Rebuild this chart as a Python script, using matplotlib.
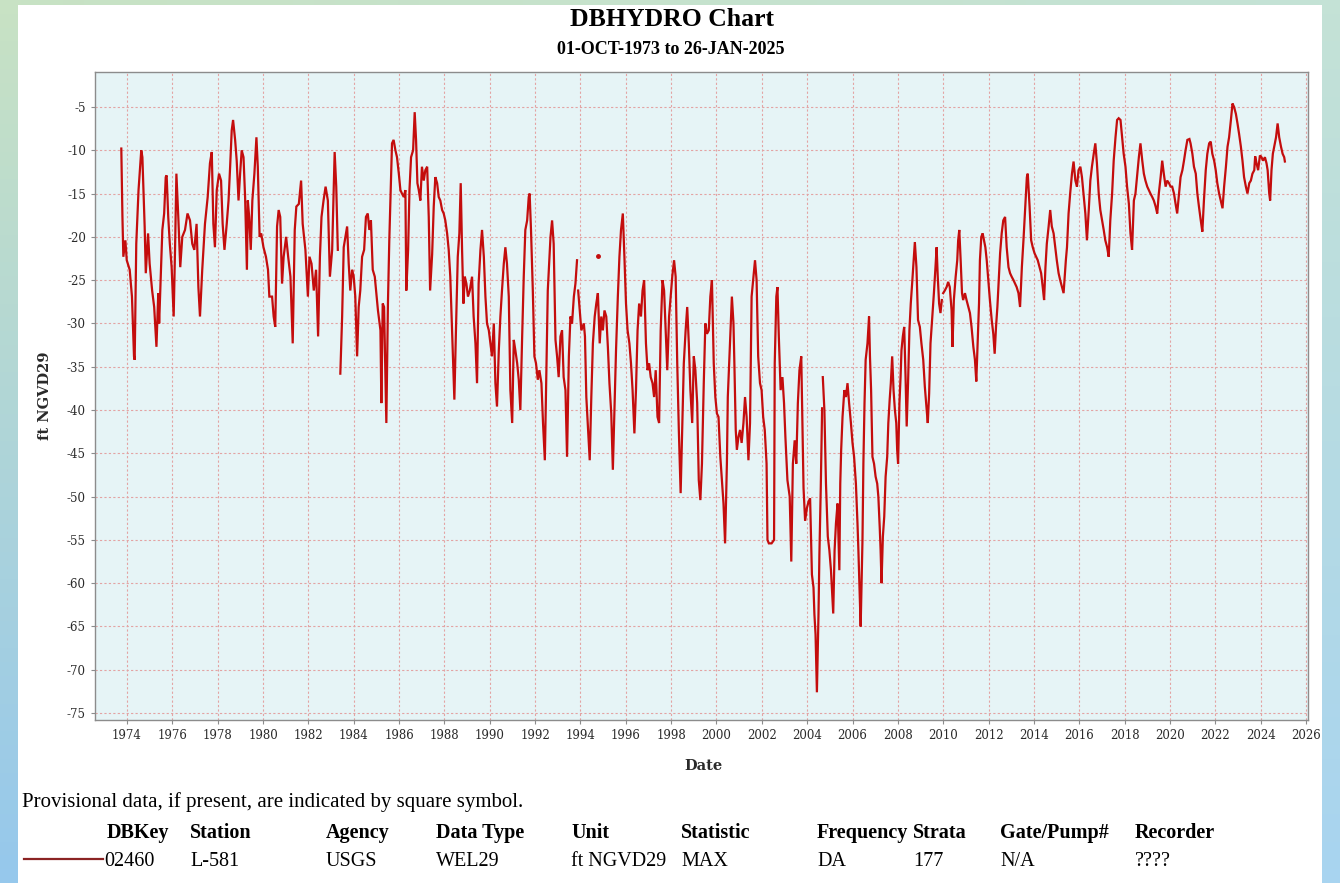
import numpy as np
import matplotlib
matplotlib.use("Agg")
import matplotlib.pyplot as plt
from matplotlib.patches import Rectangle

# Well L-581 daily max water level (ft NGVD29), read off the chart as
# (decimal year, level) turning points.
levels_1973_1983 = [
    (1973.75, -9.8), (1973.80, -17.7), (1973.84, -22.3), (1973.93, -20.4), (1973.99, -22.7),
    (1974.12, -23.8), (1974.22, -26.9), (1974.31, -33.8), (1974.34, -34.2), (1974.41, -20.8),
    (1974.51, -14.6), (1974.63, -10.0), (1974.68, -10.8), (1974.78, -18.8), (1974.83, -24.2),
    (1974.93, -19.6), (1975.00, -23.1), (1975.11, -26.2), (1975.20, -28.1), (1975.30, -32.7),
    (1975.38, -26.5), (1975.42, -30.0), (1975.50, -23.8), (1975.56, -19.2), (1975.64, -17.3),
    (1975.71, -13.1), (1975.75, -12.9), (1975.82, -17.7), (1975.89, -20.8), (1975.97, -23.5),
    (1976.06, -29.2), (1976.12, -21.5), (1976.18, -12.7), (1976.27, -18.1), (1976.35, -23.5),
    (1976.44, -20.0), (1976.56, -19.2), (1976.67, -17.3), (1976.78, -18.1), (1976.88, -20.8),
    (1976.97, -21.5), (1977.07, -18.5), (1977.15, -25.8), (1977.22, -29.2), (1977.32, -23.8),
    (1977.44, -18.5), (1977.56, -15.4), (1977.66, -11.5), (1977.74, -10.2), (1977.81, -18.5),
    (1977.88, -21.2), (1977.96, -14.6), (1978.06, -12.7), (1978.15, -13.5), (1978.22, -18.5),
    (1978.30, -21.5), (1978.40, -18.5), (1978.48, -15.8), (1978.55, -11.9), (1978.62, -7.7),
    (1978.68, -6.5), (1978.77, -8.8), (1978.84, -11.2), (1978.92, -15.8), (1978.99, -12.7),
    (1979.06, -10.0), (1979.14, -10.8), (1979.21, -15.4), (1979.29, -23.8), (1979.33, -15.8),
    (1979.39, -17.7), (1979.46, -21.5), (1979.53, -15.8), (1979.62, -12.7), (1979.71, -8.5),
    (1979.77, -11.9), (1979.85, -20.0), (1979.92, -19.6), (1980.02, -21.2), (1980.13, -22.3),
    (1980.22, -23.8), (1980.28, -26.9), (1980.40, -26.9), (1980.47, -29.2), (1980.54, -30.4),
    (1980.62, -18.8), (1980.69, -16.9), (1980.76, -17.7), (1980.84, -25.4), (1980.91, -22.3),
    (1981.02, -20.0), (1981.11, -22.3), (1981.21, -24.6), (1981.31, -32.3), (1981.40, -19.2),
    (1981.47, -16.5), (1981.58, -16.2), (1981.68, -13.5), (1981.75, -18.5), (1981.87, -21.5),
    (1981.98, -26.9), (1982.05, -22.3), (1982.14, -23.1), (1982.24, -26.2), (1982.34, -23.8),
    (1982.43, -31.5), (1982.51, -22.3), (1982.58, -17.7), (1982.67, -15.8), (1982.76, -14.2),
    (1982.86, -15.8), (1982.95, -24.6), (1983.05, -21.5), (1983.16, -10.2), (1983.23, -14.2),
    (1983.30, -21.5),
]

levels_1983_1993 = [
    (1983.41, -35.8), (1983.49, -29.2), (1983.56, -21.2), (1983.71, -18.8), (1983.78, -23.1),
    (1983.85, -26.2), (1983.93, -23.8), (1984.00, -24.6), (1984.07, -26.9), (1984.15, -33.8),
    (1984.22, -28.1), (1984.29, -26.2), (1984.37, -22.3), (1984.46, -21.5), (1984.54, -17.7),
    (1984.62, -17.3), (1984.69, -19.2), (1984.76, -18.1), (1984.84, -23.8), (1984.93, -24.6),
    (1985.00, -26.5), (1985.07, -28.5), (1985.18, -30.8), (1985.22, -39.2), (1985.28, -27.7),
    (1985.34, -28.1), (1985.40, -35.8), (1985.44, -41.5), (1985.51, -27.7), (1985.57, -20.4),
    (1985.63, -14.6), (1985.69, -9.2), (1985.76, -8.8), (1985.84, -10.0), (1985.91, -10.8),
    (1985.99, -12.7), (1986.06, -14.6), (1986.13, -15.0), (1986.21, -15.4), (1986.28, -14.6),
    (1986.32, -26.2), (1986.40, -21.5), (1986.46, -14.6), (1986.53, -10.8), (1986.62, -10.0),
    (1986.69, -5.6), (1986.75, -8.8), (1986.81, -13.8), (1986.87, -14.6), (1986.94, -15.8),
    (1987.01, -11.9), (1987.09, -13.5), (1987.16, -12.3), (1987.24, -11.9), (1987.31, -17.7),
    (1987.37, -26.2), (1987.46, -22.0), (1987.53, -16.5), (1987.60, -13.1), (1987.68, -13.8),
    (1987.75, -15.4), (1987.82, -15.8), (1987.90, -16.9), (1987.97, -17.3), (1988.04, -18.1),
    (1988.12, -19.6), (1988.19, -21.5), (1988.26, -24.6), (1988.34, -30.8), (1988.38, -33.8),
    (1988.44, -38.8), (1988.51, -30.8), (1988.59, -22.3), (1988.66, -19.6), (1988.72, -13.8),
    (1988.78, -21.5), (1988.84, -27.7), (1988.90, -24.6), (1988.97, -25.4), (1989.04, -26.9),
    (1989.12, -26.2), (1989.22, -24.6), (1989.29, -29.2), (1989.37, -32.3), (1989.44, -36.9),
    (1989.51, -25.4), (1989.59, -21.5), (1989.66, -19.2), (1989.74, -22.3), (1989.81, -26.9),
    (1989.88, -30.0), (1989.96, -30.8), (1990.03, -32.3), (1990.10, -33.8), (1990.18, -30.0),
    (1990.25, -36.9), (1990.32, -39.6), (1990.40, -33.1), (1990.47, -29.2), (1990.54, -26.2),
    (1990.62, -23.1), (1990.69, -21.2), (1990.76, -23.1), (1990.84, -26.9), (1990.91, -37.7),
    (1990.99, -41.5), (1991.06, -31.9), (1991.13, -33.1), (1991.21, -34.6), (1991.28, -36.5),
    (1991.35, -40.0), (1991.43, -31.5), (1991.50, -24.6), (1991.57, -19.2), (1991.65, -18.1),
    (1991.72, -15.4), (1991.76, -15.0), (1991.82, -19.2), (1991.90, -26.2), (1991.97, -33.8),
    (1992.04, -34.6), (1992.12, -36.5), (1992.19, -35.4), (1992.28, -36.9), (1992.35, -41.5),
    (1992.43, -45.8), (1992.50, -35.4), (1992.56, -26.2), (1992.62, -23.1), (1992.68, -20.0),
    (1992.75, -18.1), (1992.82, -20.8), (1992.90, -31.9), (1992.97, -33.8), (1993.04, -36.2),
    (1993.12, -31.5), (1993.19, -30.8), (1993.26, -36.2), (1993.34, -37.7), (1993.41, -45.4),
    (1993.49, -33.8), (1993.56, -29.2), (1993.63, -30.0), (1993.71, -26.9), (1993.78, -25.4),
    (1993.85, -22.7),
]

levels_1993_2004 = [
    (1993.90, -26.2), (1993.97, -28.5), (1994.04, -30.8), (1994.15, -30.0), (1994.20, -31.5),
    (1994.26, -38.5), (1994.34, -42.3), (1994.41, -45.8), (1994.48, -38.5), (1994.55, -32.3),
    (1994.63, -29.2), (1994.70, -27.7), (1994.77, -26.5), (1994.85, -32.3), (1994.92, -29.2),
    (1994.99, -30.8), (1995.06, -28.5), (1995.14, -29.2), (1995.21, -32.7), (1995.28, -36.9),
    (1995.36, -40.4), (1995.43, -46.9), (1995.50, -40.0), (1995.57, -33.1), (1995.65, -26.9),
    (1995.72, -22.3), (1995.79, -19.2), (1995.87, -17.3), (1995.94, -22.3), (1996.01, -27.7),
    (1996.08, -30.8), (1996.16, -32.3), (1996.23, -34.6), (1996.30, -37.7), (1996.38, -42.7),
    (1996.45, -37.7), (1996.52, -30.8), (1996.59, -27.7), (1996.67, -29.2), (1996.74, -26.2),
    (1996.81, -25.0), (1996.89, -32.3), (1996.96, -35.4), (1997.03, -34.6), (1997.10, -36.2),
    (1997.18, -36.9), (1997.25, -38.5), (1997.32, -35.4), (1997.40, -40.8), (1997.47, -41.5),
    (1997.54, -30.8), (1997.62, -25.0), (1997.69, -26.2), (1997.76, -30.8), (1997.83, -35.4),
    (1997.91, -29.2), (1997.98, -26.9), (1998.05, -24.6), (1998.13, -22.7), (1998.20, -24.6),
    (1998.27, -34.6), (1998.34, -42.3), (1998.42, -49.6), (1998.49, -42.3), (1998.56, -34.6),
    (1998.64, -30.8), (1998.71, -28.1), (1998.78, -32.3), (1998.85, -37.7), (1998.93, -41.5),
    (1999.00, -33.8), (1999.07, -35.4), (1999.15, -39.2), (1999.22, -48.1), (1999.29, -50.4),
    (1999.36, -46.2), (1999.44, -36.9), (1999.51, -30.0), (1999.58, -31.2), (1999.66, -30.8),
    (1999.73, -26.9), (1999.80, -25.0), (1999.88, -34.6), (1999.95, -38.5), (2000.02, -40.4),
    (2000.09, -40.8), (2000.17, -45.4), (2000.24, -48.1), (2000.31, -50.8), (2000.38, -55.4),
    (2000.46, -46.2), (2000.50, -38.5), (2000.56, -34.6), (2000.62, -30.8), (2000.68, -26.9),
    (2000.75, -30.0), (2000.79, -34.6), (2000.85, -42.3), (2000.90, -44.6), (2000.97, -43.1),
    (2001.04, -42.3), (2001.11, -43.8), (2001.19, -41.5), (2001.26, -38.5), (2001.33, -40.8),
    (2001.41, -45.8), (2001.48, -41.5), (2001.55, -26.9), (2001.62, -25.0), (2001.70, -22.7),
    (2001.77, -25.0), (2001.84, -33.8), (2001.92, -36.9), (2001.99, -37.7), (2002.06, -40.8),
    (2002.13, -42.3), (2002.21, -46.2), (2002.25, -55.0), (2002.31, -55.4), (2002.43, -55.4),
    (2002.54, -55.0), (2002.57, -34.6), (2002.64, -26.9), (2002.69, -25.8), (2002.75, -31.5),
    (2002.83, -37.7), (2002.91, -36.2), (2002.98, -39.2), (2003.04, -43.1), (2003.13, -48.1),
    (2003.23, -50.0), (2003.30, -57.5), (2003.37, -46.2), (2003.45, -43.5), (2003.52, -46.2),
    (2003.59, -39.2), (2003.66, -35.4), (2003.74, -33.8), (2003.84, -49.0), (2003.91, -52.8),
    (2003.99, -51.3), (2004.06, -50.6), (2004.13, -50.2), (2004.21, -59.0), (2004.28, -60.5),
    (2004.32, -63.6), (2004.37, -65.9), (2004.43, -72.6), (2004.50, -63.6), (2004.54, -56.7),
    (2004.60, -49.0), (2004.66, -39.8),
]

levels_2004_2010 = [
    (2004.69, -36.2), (2004.76, -40.0), (2004.83, -48.5), (2004.91, -54.6), (2004.98, -56.2),
    (2005.05, -58.5), (2005.15, -63.5), (2005.21, -56.2), (2005.27, -53.1), (2005.34, -50.8),
    (2005.42, -58.5), (2005.46, -48.5), (2005.50, -44.6), (2005.56, -40.8), (2005.64, -37.7),
    (2005.71, -38.5), (2005.78, -36.9), (2005.85, -39.2), (2005.93, -41.5), (2006.00, -43.8),
    (2006.07, -45.4), (2006.15, -48.5), (2006.22, -53.1), (2006.26, -56.2), (2006.32, -61.5),
    (2006.36, -65.0), (2006.44, -55.0), (2006.48, -46.2), (2006.53, -39.2), (2006.58, -34.2),
    (2006.66, -32.3), (2006.73, -29.2), (2006.77, -33.8), (2006.82, -37.7), (2006.88, -45.4),
    (2006.95, -46.2), (2007.02, -47.7), (2007.09, -48.5), (2007.14, -50.0), (2007.20, -53.5),
    (2007.24, -56.2), (2007.28, -60.0), (2007.34, -54.6), (2007.40, -52.3), (2007.46, -47.7),
    (2007.53, -45.4), (2007.58, -41.5), (2007.64, -38.8), (2007.69, -36.9), (2007.75, -33.8),
    (2007.81, -37.7), (2007.87, -40.0), (2007.93, -41.5), (2007.97, -44.6), (2008.01, -46.2),
    (2008.07, -39.2), (2008.12, -36.2), (2008.16, -33.1), (2008.22, -31.5), (2008.28, -30.4),
    (2008.34, -36.2), (2008.39, -41.9), (2008.45, -36.9), (2008.51, -30.8), (2008.57, -27.7),
    (2008.63, -25.4), (2008.75, -20.6), (2008.82, -23.5), (2008.89, -29.6), (2008.97, -30.4),
    (2009.04, -32.3), (2009.12, -34.2), (2009.19, -37.3), (2009.26, -39.6), (2009.32, -41.5),
    (2009.38, -38.1), (2009.44, -32.3), (2009.51, -29.6), (2009.59, -26.5), (2009.66, -23.5),
    (2009.71, -21.2), (2009.76, -24.6), (2009.82, -27.7), (2009.88, -28.8), (2009.94, -27.3),
]

levels_2010_2025 = [
    (2010.00, -26.5), (2010.07, -26.2), (2010.15, -25.8), (2010.22, -25.2), (2010.29, -25.8),
    (2010.37, -28.5), (2010.41, -32.7), (2010.47, -27.3), (2010.55, -24.6), (2010.62, -22.7),
    (2010.66, -20.4), (2010.71, -19.2), (2010.77, -22.7), (2010.83, -26.5), (2010.88, -27.3),
    (2010.96, -26.5), (2011.03, -27.3), (2011.11, -28.1), (2011.18, -28.8), (2011.25, -30.4),
    (2011.33, -32.7), (2011.40, -34.2), (2011.46, -36.7), (2011.52, -32.3), (2011.58, -27.7),
    (2011.62, -22.7), (2011.68, -20.0), (2011.74, -19.6), (2011.80, -20.4), (2011.86, -21.2),
    (2011.92, -22.7), (2011.99, -25.0), (2012.06, -27.3), (2012.14, -29.6), (2012.21, -31.2),
    (2012.27, -33.5), (2012.33, -30.4), (2012.39, -28.1), (2012.45, -25.0), (2012.51, -21.9),
    (2012.58, -19.6), (2012.65, -18.1), (2012.73, -17.7), (2012.80, -21.2), (2012.88, -23.5),
    (2012.95, -24.2), (2013.02, -24.6), (2013.10, -25.0), (2013.17, -25.4), (2013.24, -25.8),
    (2013.32, -26.5), (2013.39, -28.1), (2013.47, -23.5), (2013.54, -20.4), (2013.61, -16.9),
    (2013.69, -13.1), (2013.73, -12.7), (2013.81, -16.5), (2013.88, -20.4), (2013.95, -21.2),
    (2014.03, -21.9), (2014.10, -22.3), (2014.17, -22.7), (2014.25, -23.5), (2014.32, -24.2),
    (2014.39, -25.8), (2014.45, -27.3), (2014.51, -23.5), (2014.57, -20.8), (2014.65, -18.8),
    (2014.72, -16.9), (2014.79, -18.8), (2014.87, -19.6), (2014.94, -21.2), (2015.01, -22.7),
    (2015.09, -24.2), (2015.16, -25.0), (2015.24, -25.8), (2015.31, -26.5), (2015.41, -22.7),
    (2015.46, -21.2), (2015.53, -17.3), (2015.60, -15.0), (2015.68, -12.7), (2015.75, -11.3),
    (2015.83, -13.5), (2015.90, -14.2), (2015.97, -12.3), (2016.05, -11.9), (2016.12, -13.1),
    (2016.19, -15.0), (2016.27, -17.3), (2016.34, -20.4), (2016.42, -16.9), (2016.49, -13.5),
    (2016.56, -11.9), (2016.64, -10.4), (2016.71, -9.2), (2016.78, -11.5), (2016.86, -15.0),
    (2016.93, -16.9), (2017.01, -18.1), (2017.08, -19.2), (2017.15, -20.4), (2017.23, -21.2),
    (2017.30, -22.3), (2017.37, -18.1), (2017.45, -15.0), (2017.52, -11.2), (2017.60, -8.5),
    (2017.67, -6.5), (2017.74, -6.3), (2017.82, -6.5), (2017.89, -8.5), (2017.96, -10.4),
    (2018.04, -11.9), (2018.11, -14.2), (2018.19, -16.2), (2018.26, -19.6), (2018.33, -21.5),
    (2018.41, -15.8), (2018.48, -15.0), (2018.55, -13.1), (2018.63, -10.8), (2018.70, -9.2),
    (2018.78, -11.2), (2018.85, -12.7), (2018.92, -13.5), (2019.00, -14.2), (2019.07, -14.6),
    (2019.14, -15.0), (2019.22, -15.4), (2019.29, -15.8), (2019.37, -16.5), (2019.44, -17.3),
    (2019.51, -15.0), (2019.59, -13.1), (2019.66, -11.2), (2019.73, -12.7), (2019.81, -14.2),
    (2019.88, -13.5), (2019.96, -13.8), (2020.03, -14.2), (2020.10, -14.2), (2020.18, -15.0),
    (2020.25, -16.2), (2020.32, -17.3), (2020.40, -15.0), (2020.47, -13.1), (2020.55, -12.3),
    (2020.62, -11.2), (2020.69, -10.0), (2020.77, -8.8), (2020.86, -8.7), (2020.91, -9.2),
    (2020.99, -10.4), (2021.06, -11.9), (2021.14, -12.7), (2021.21, -15.0), (2021.28, -16.5),
    (2021.36, -18.1), (2021.43, -19.4), (2021.50, -15.8), (2021.58, -12.3), (2021.65, -10.4),
    (2021.73, -9.2), (2021.80, -9.0), (2021.87, -10.4), (2021.95, -11.2), (2022.02, -12.3),
    (2022.09, -13.8), (2022.17, -15.0), (2022.24, -15.8), (2022.32, -16.7), (2022.39, -14.2),
    (2022.47, -11.9), (2022.54, -9.6), (2022.61, -8.5), (2022.69, -6.5), (2022.76, -4.6),
    (2022.83, -5.0), (2022.91, -5.8), (2022.98, -6.9), (2023.05, -8.1), (2023.13, -9.6),
    (2023.20, -11.2), (2023.27, -13.1), (2023.35, -14.2), (2023.42, -15.0), (2023.50, -13.8),
    (2023.57, -13.5), (2023.64, -12.7), (2023.72, -12.3), (2023.76, -10.7), (2023.82, -11.5),
    (2023.89, -12.3), (2023.97, -10.6), (2024.04, -10.8), (2024.11, -11.2), (2024.19, -10.8),
    (2024.26, -11.5), (2024.31, -12.3), (2024.38, -15.0), (2024.42, -15.8), (2024.48, -12.3),
    (2024.54, -10.4), (2024.60, -9.6), (2024.68, -8.5), (2024.75, -6.9), (2024.82, -8.5),
    (2024.90, -9.6), (2024.97, -10.4), (2025.04, -10.8), (2025.07, -11.3),
]

# a single reading standing apart from the line
lone_reading = [(1994.78, -22.2)]

year_ticks = list(range(1974, 2027, 2))
level_ticks = list(range(-75, 0, 5))

legend_header = ["DBKey", "Station", "Agency", "Data Type", "Unit", "Statistic",
                 "Frequency", "Strata", "Gate/Pump#", "Recorder"]
legend_row = ["02460", "L-581", "USGS", "WEL29", "ft NGVD29", "MAX",
              "DA", "177", "N/A", "????"]
legend_cols_px = [107, 190, 326, 436, 571, 681, 817, 913, 1000, 1135]

W, H = 1340, 883
LINE = "#c40d0d"
SERIF = ["Liberation Serif", "DejaVu Serif"]


def fx(px):
    return px / W


def fy(py):
    return 1 - py / H


fig = plt.figure(figsize=(W / 100, H / 100), dpi=100)

# page background: soft green/blue gradient behind a white card
bg = fig.add_axes([0, 0, 1, 1], zorder=-10)
tl, tr = np.array([200, 226, 196]), np.array([196, 226, 214])
bl, br = np.array([150, 200, 236]), np.array([168, 212, 240])
u = np.linspace(0, 1, 64)[None, :, None]
v = np.linspace(0, 1, 64)[:, None, None]
grad = ((1 - v) * ((1 - u) * tl + u * tr) + v * ((1 - u) * bl + u * br)) / 255
bg.imshow(grad, extent=[0, 1, 0, 1], aspect="auto", origin="upper")
bg.add_patch(Rectangle((fx(18), 0), fx(1322 - 18), 1 - 5 / H, color="white", lw=0))
bg.set_xlim(0, 1)
bg.set_ylim(0, 1)
bg.axis("off")

ax = fig.add_axes([fx(95), fy(720), fx(1308 - 95), (720 - 72) / H])
ax.set_facecolor("#e6f4f6")

for seg in [levels_1973_1983, levels_1983_1993, levels_1993_2004,
            levels_2004_2010, levels_2010_2025]:
    arr = np.array(seg)
    ax.plot(arr[:, 0], arr[:, 1], color=LINE, lw=1.6, solid_joinstyle="miter")
lone = np.array(lone_reading)
ax.plot(lone[:, 0], lone[:, 1], "o", color=LINE, ms=2.5)

ax.set_xlim(1972.59, 2026.09)
ax.set_ylim(-75.8, -0.96)
ax.set_xticks(year_ticks)
ax.set_xticklabels([str(y) for y in year_ticks])
ax.set_yticks(level_ticks)
ax.set_yticklabels([str(v) for v in level_ticks])
ax.grid(True, color="#e3a3a3", ls=(0, (2, 2)), lw=0.8)
ax.set_axisbelow(True)
for s in ax.spines.values():
    s.set_color("#8c8c8c")
    s.set_linewidth(1.0)
ax.tick_params(colors="#8c8c8c", labelcolor="#2a2a2a", length=3, width=0.8,
               labelsize=8.5)
for lab in ax.get_xticklabels() + ax.get_yticklabels():
    lab.set_family("DejaVu Serif")

fig.text(fx(672), fy(20), "DBHYDRO Chart", ha="center", va="center",
         fontsize=18.5, fontweight="bold", family=SERIF)
fig.text(fx(671), fy(50), "01-OCT-1973 to 26-JAN-2025", ha="center", va="center",
         fontsize=13, fontweight="bold", family=SERIF)
fig.text(fx(45), fy(396), "ft NGVD29", rotation=90, ha="center", va="center",
         fontsize=10.5, fontweight="bold", family="DejaVu Serif", color="#2a2a2a")
fig.text(fx(703), fy(766), "Date", ha="center", va="center",
         fontsize=10.5, fontweight="bold", family="DejaVu Serif", color="#2a2a2a")

fig.text(fx(22), fy(802), "Provisional data, if present, are indicated by square symbol.",
         ha="left", va="center", fontsize=15, family=SERIF)
for name, val, px in zip(legend_header, legend_row, legend_cols_px):
    fig.text(fx(px), fy(833), name, ha="left", va="center", fontsize=14.5,
             fontweight="bold", family=SERIF)
    fig.text(fx(px if val != "02460" else 104), fy(861), val, ha="left", va="center",
             fontsize=14.5, family=SERIF)
fig.add_artist(plt.Line2D([fx(24), fx(103)], [fy(859), fy(859)], color="#8b2323", lw=1.6))

fig.savefig("out.png", dpi=100)
